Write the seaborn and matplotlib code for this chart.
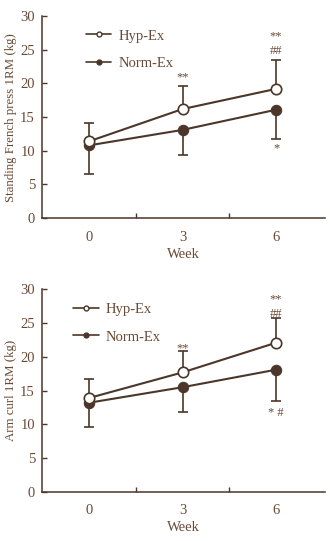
import matplotlib
matplotlib.use("Agg")
import matplotlib.pyplot as plt
import seaborn as sns
import pandas as pd
from matplotlib.lines import Line2D

sns.set_theme(style="white")
plt.rcParams['font.family'] = ['Liberation Serif', 'DejaVu Serif']

weeks = [0, 3, 6]
groups = ["Hyp-Ex", "Norm-Ex"]

# Panel 1: Standing French press 1RM
french_hyp = [11.4, 16.2, 19.2]
french_hyp_sd = [2.7, 3.5, 4.3]
french_norm = [10.8, 13.1, 16.1]
french_norm_sd = [4.2, 3.7, 4.4]
french_annot = [(3, 20.9, "**"), (6, 27.0, "**"), (6, 24.9, "##"), (6, 10.3, "*")]

# Panel 2: Arm curl 1RM
curl_hyp = [13.9, 17.7, 22.1]
curl_hyp_sd = [2.8, 3.1, 3.6]
curl_norm = [13.2, 15.5, 18.1]
curl_norm_sd = [3.6, 3.7, 4.6]
curl_annot = [(3, 21.2, "**"), (6, 28.5, "**"), (6, 26.4, "##"), (6, 11.7, "* #")]

LINE = "#4b3629"
TEXT = "#6a4a36"
FS = 10.5

fig = plt.figure(figsize=(3.30, 5.41), dpi=100)
ax1 = fig.add_axes([0.127, 0.597, 0.858, 0.373])
ax2 = fig.add_axes([0.127, 0.091, 0.858, 0.374])


def panel(ax, hyp, hyp_sd, norm, norm_sd, annots, ylabel, leg_x):
    df = pd.DataFrame({
        "Week": weeks * 2,
        "val": hyp + norm,
        "grp": [groups[0]] * 3 + [groups[1]] * 3,
    })
    # error bars (one-sided)
    ax.errorbar(weeks, hyp, yerr=[[0, 0, 0], hyp_sd], fmt="none",
                ecolor=LINE, elinewidth=1.2, capsize=3.3, capthick=1.2, zorder=1)
    ax.errorbar(weeks, norm, yerr=[norm_sd, [0, 0, 0]], fmt="none",
                ecolor=LINE, elinewidth=1.2, capsize=3.3, capthick=1.2, zorder=1)
    sns.lineplot(data=df[df.grp == groups[1]], x="Week", y="val", ax=ax,
                 color=LINE, lw=1.5, marker="o", markersize=7.5,
                 markerfacecolor=LINE, markeredgecolor=LINE, legend=False, zorder=2)
    sns.lineplot(data=df[df.grp == groups[0]], x="Week", y="val", ax=ax,
                 color=LINE, lw=1.5, marker="o", markersize=7.5,
                 markerfacecolor="white", markeredgecolor=LINE,
                 markeredgewidth=1.2, legend=False, zorder=3)
    for x, y, s in annots:
        ax.text(x, y, s, ha="center", va="center", fontsize=9, color=TEXT)
    ax.set_xlim(-1.51, 7.57)
    ax.set_ylim(0, 30)
    ax.set_xticks(weeks)
    ax.set_xticklabels([str(w) for w in weeks])
    ax.set_xticks([1.5, 4.5], minor=True)
    ax.tick_params(axis="x", which="major", length=0, labelsize=FS,
                   colors=TEXT, pad=9)
    ax.tick_params(axis="x", which="minor", length=3.5, direction="in",
                   width=1, color=LINE, bottom=True)
    ax.set_yticks([0, 5, 10, 15, 20, 25, 30])
    ax.tick_params(axis="y", length=3.5, direction="in", width=1,
                   color=LINE, labelsize=FS, labelcolor=TEXT, left=True, pad=5)
    for side in ["top", "right"]:
        ax.spines[side].set_visible(False)
    for side in ["left", "bottom"]:
        ax.spines[side].set_color(LINE)
        ax.spines[side].set_linewidth(1.1)
    ax.set_xlabel("Week", fontsize=FS, color=TEXT, labelpad=3)
    ax.set_ylabel(ylabel, fontsize=9.3, color=TEXT, labelpad=2)
    handles = [
        Line2D([], [], color=LINE, lw=1.2, marker="o", markersize=3.5,
               markerfacecolor="white", markeredgecolor=LINE),
        Line2D([], [], color=LINE, lw=1.2, marker="o", markersize=3.5,
               markerfacecolor=LINE, markeredgecolor=LINE),
    ]
    leg = ax.legend(handles, groups, loc="upper left",
                    bbox_to_anchor=(leg_x, 0.935), frameon=False,
                    borderaxespad=0, borderpad=0,
                    fontsize=FS, handlelength=1.75, handletextpad=0.5,
                    labelspacing=1.0)
    for t in leg.get_texts():
        t.set_color(TEXT)


panel(ax1, french_hyp, french_hyp_sd, french_norm, french_norm_sd, french_annot,
      "Standing French press 1RM (kg)", 0.155)
panel(ax2, curl_hyp, curl_hyp_sd, curl_norm, curl_norm_sd, curl_annot,
      "Arm curl 1RM (kg)", 0.11)

fig.savefig("out.png", dpi=100)
